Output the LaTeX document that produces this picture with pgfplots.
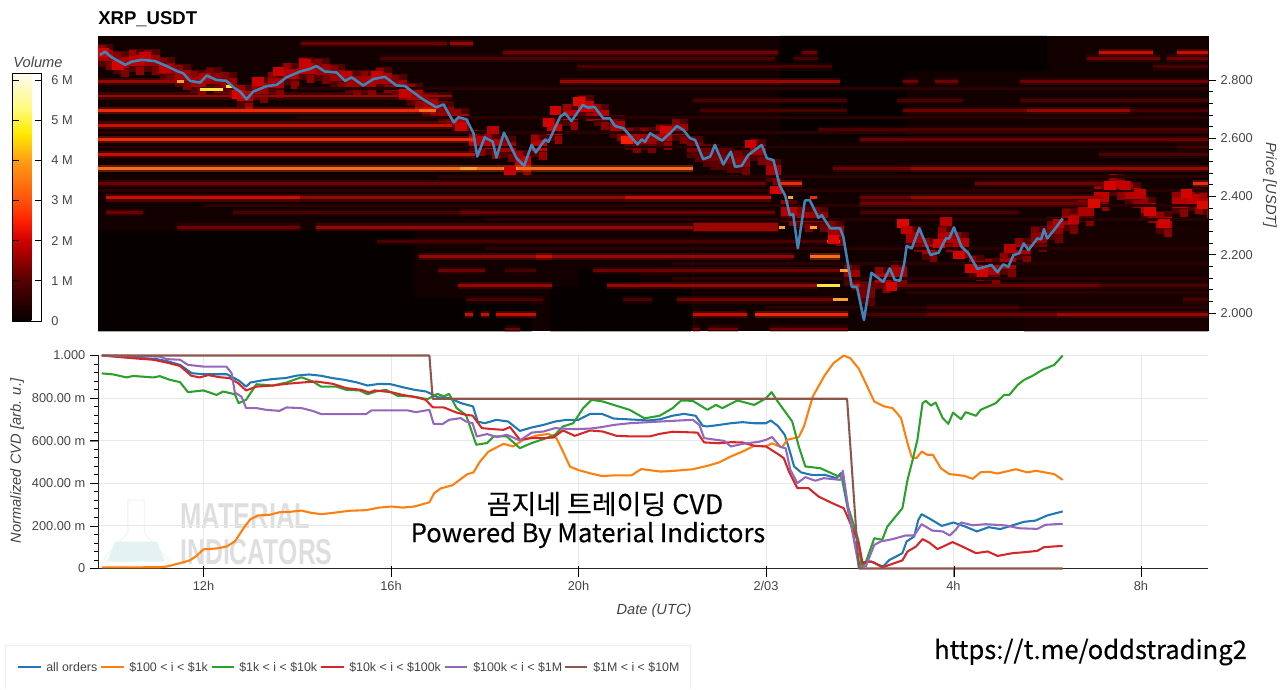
\documentclass[border=0pt]{standalone}
\usepackage{fontspec}
\usepackage{graphicx}
\usepackage{pgfplots}
\usepackage{pgfplotstable}
\pgfplotsset{compat=1.18}
\setmainfont{Liberation Sans}
\newfontfamily\cjk[FakeBold=0.35]{Noto Sans CJK KR}
\definecolor{hZ}{HTML}{070000}
\definecolor{hY}{HTML}{190000}
\definecolor{hA}{HTML}{2A0000}
\definecolor{hB}{HTML}{4A0000}
\definecolor{hC}{HTML}{700000}
\definecolor{hD}{HTML}{990800}
\definecolor{hE}{HTML}{C81000}
\definecolor{hF}{HTML}{EE2A0A}
\definecolor{hG}{HTML}{FF6A1A}
\definecolor{hH}{HTML}{FFA030}
\definecolor{hI}{HTML}{FFE838}
\definecolor{txt}{HTML}{444444}
\definecolor{gridc}{HTML}{E8E8E8}
\definecolor{c1}{HTML}{1F77B4}
\definecolor{c2}{HTML}{FF7F0E}
\definecolor{c3}{HTML}{2CA02C}
\definecolor{c4}{HTML}{D62728}
\definecolor{c5}{HTML}{9467BD}
\definecolor{c6}{HTML}{8C564B}
\pgfplotsset{colormap={heat}{rgb255(0pt)=(5,0,0) rgb255(10pt)=(85,0,0) rgb255(20pt)=(205,0,0) rgb255(25pt)=(255,30,0) rgb255(30pt)=(255,80,10) rgb255(40pt)=(255,155,20) rgb255(47pt)=(255,235,0) rgb255(53pt)=(255,250,120) rgb255(62pt)=(255,250,240)}}
\pgfdeclareplotmark{cH}{\pgfpathrectangle{\pgfpoint{-5.9pt}{-8.5pt}}{\pgfpoint{11.8pt}{17pt}}\pgfusepathqfill}
\pgfdeclareplotmark{cC}{\pgfpathrectangle{\pgfpoint{-5.9pt}{-4pt}}{\pgfpoint{11.8pt}{8pt}}\pgfusepathqfill}
\pgfdeclareplotmark{cU}{\pgfpathrectangle{\pgfpoint{-5.9pt}{3pt}}{\pgfpoint{5.9pt}{5pt}}\pgfusepathqfill}
\pgfdeclareplotmark{cL}{\pgfpathrectangle{\pgfpoint{0pt}{-11pt}}{\pgfpoint{5.9pt}{6pt}}\pgfusepathqfill}
\pgfdeclareplotmark{cM}{\pgfpathrectangle{\pgfpoint{-4.4pt}{-3.3pt}}{\pgfpoint{8.8pt}{6.6pt}}\pgfusepathqfill}
\newcommand\B[4]{\addplot[#4,opacity=.3,line width=5.5pt,line cap=butt,forget plot] coordinates {(#1,#3)(#2,#3)};\addplot[#4,line width=2.18pt,line cap=butt,forget plot] coordinates {(#1,#3)(#2,#3)};}
\newcommand\F[4]{\addplot[#4,line width=2.18pt,line cap=butt,forget plot] coordinates {(#1,#3)(#2,#3)};}
\newcommand\R[5]{\addplot[draw=none,fill=#5,forget plot] coordinates {(#1,#3)(#2,#3)(#2,#4)(#1,#4)} \closedcycle;}
\newcommand\PX[2]{({#1*0.75pt},{(689-#2)*0.75pt})}
\pgfplotstableread{
h p v
9.91 2.885 1.7
10.24 2.860 1.7
10.57 2.868 1.9
10.90 2.866 1.6
11.23 2.840 1.6
11.56 2.815 1.7
11.89 2.795 1.7
12.22 2.805 1.5
12.55 2.790 1.6
12.88 2.745 1.9
13.21 2.770 1.6
13.54 2.790 1.7
13.87 2.820 1.8
14.20 2.840 1.9
14.53 2.835 1.6
14.86 2.815 1.6
15.19 2.795 1.6
15.52 2.795 1.7
15.85 2.805 1.7
16.18 2.780 1.6
16.51 2.750 1.8
16.84 2.715 1.7
17.17 2.690 1.5
17.50 2.665 1.7
17.83 2.590 1.8
18.16 2.580 1.8
18.49 2.570 1.6
18.82 2.520 1.9
19.16 2.575 1.9
19.49 2.630 2.0
19.83 2.680 1.9
20.16 2.710 2.0
20.49 2.680 1.8
20.83 2.640 1.7
21.16 2.600 1.7
21.49 2.600 1.6
21.83 2.610 1.8
22.16 2.630 1.6
22.49 2.570 1.3
22.83 2.540 1.3
23.16 2.530 1.3
23.49 2.520 1.5
23.83 2.560 1.6
24.16 2.490 1.7
24.49 2.350 1.8
24.83 2.330 1.6
25.16 2.330 1.5
25.49 2.280 1.6
25.83 2.130 1.6
26.16 2.070 1.3
26.49 2.120 1.8
26.83 2.140 1.7
27.16 2.260 1.7
27.49 2.220 1.7
27.83 2.260 1.8
28.16 2.240 1.8
28.49 2.160 1.7
28.83 2.150 1.7
29.16 2.170 1.7
29.49 2.220 1.7
29.83 2.260 1.5
30.16 2.290 1.5
30.49 2.320 1.6
30.83 2.350 1.7
31.16 2.400 1.9
31.49 2.440 1.8
31.83 2.410 1.8
32.16 2.360 1.8
32.49 2.310 1.8
32.83 2.380 1.8
33.16 2.390 1.9
33.40 2.375 1.9
}\tblK
\pgfplotstableread{
h p v
9.85 2.894 2.5
10.75 2.880 2.4
10.18 2.850 2.5
11.18 2.840 2.3
13.60 2.830 2.4
14.17 2.857 2.4
15.70 2.817 2.4
15.05 2.817 2.3
16.30 2.754 2.4
13.17 2.794 2.4
12.03 2.810 2.2
12.74 2.749 2.5
17.50 2.640 2.4
18.18 2.628 2.2
18.54 2.490 2.4
19.51 2.695 2.5
20.01 2.726 2.6
19.36 2.654 2.5
21.03 2.594 3.0
21.86 2.628 2.5
23.67 2.580 2.4
24.21 2.422 2.5
25.44 2.253 2.6
26.93 2.308 2.6
26.68 2.090 2.5
27.69 2.239 2.5
27.00 2.285 2.3
27.84 2.314 2.2
28.12 2.199 2.5
28.37 2.153 2.5
28.62 2.138 2.5
29.21 2.222 2.2
30.24 2.308 2.2
30.56 2.319 2.3
31.00 2.377 2.6
31.34 2.439 2.5
31.66 2.439 2.3
31.98 2.411 2.3
32.19 2.348 2.5
32.49 2.308 2.5
32.97 2.411 2.5
33.33 2.371 2.6
}\tblM
\begin{document}
\begin{tikzpicture}
\path[use as bounding box] (0,0) rectangle (960pt,516.75pt);
% legend frame
\draw[draw=gridc!70,line width=.6pt] \PX{5}{689} -- \PX{5}{645} -- \PX{690}{645} -- \PX{690}{689};
% watermark
\fill[fill=black!4] \PX{127}{499.3} -- \PX{145}{499.3} -- \PX{145}{533} -- \PX{170}{560} -- \PX{165}{566.7} -- \PX{108}{566.7} -- \PX{103}{558} -- \PX{127}{533} -- cycle;
\fill[white] \PX{128.5}{501} -- \PX{143.5}{501} -- \PX{143.5}{533.5} -- \PX{168}{560} -- \PX{164}{565} -- \PX{109}{565} -- \PX{105}{558} -- \PX{128.5}{533.5} -- cycle;
\fill[fill=teal!10] \PX{115}{541.7} -- \PX{157}{541.7} -- \PX{165}{561.7} -- \PX{107}{561.7} -- cycle;
\node[anchor=west,inner sep=0,text=black!13] at \PX{180}{516} {\scalebox{.71}[1]{\fontsize{27pt}{27pt}\selectfont\bfseries MATERIAL}};
\node[anchor=west,inner sep=0,text=black!13] at \PX{180}{552} {\scalebox{.69}[1]{\fontsize{27pt}{27pt}\selectfont\bfseries INDICATORS}};

% ---------- top heat map
\begin{axis}[
  at={(73.5pt,268.125pt)},anchor=south west,scale only axis,
  width=832.5pt,height=221.625pt,
  xmin=9.75,xmax=33.43,ymin=1.9365,ymax=2.951,
  clip marker paths=true,
  axis x line=none,axis y line*=right,
  axis background/.style={fill=hA!42!black},
  colormap name=heat,point meta min=0,point meta max=6.16,
  ytick={2.0,2.2,2.4,2.6,2.8},yticklabels={2.000,2.200,2.400,2.600,2.800},
  minor y tick num=4,
  tick align=outside,
  major tick length=6pt,minor tick length=3.5pt,
  tick style={black,line width=.6pt},
  yticklabel style={text=txt,font=\fontsize{9.6pt}{11pt}\selectfont},
  xtick=\empty,
]
% dark regions
\R{9.75}{16.5}{1.9365}{2.28}{hZ}
\R{16.5}{19}{2.05}{1.9365}{hZ}
\R{19.4}{22.4}{1.9365}{2.09}{hZ}
\R{20.0}{21.3}{2.09}{2.15}{hZ}
\R{24.3}{27}{2.60}{2.951}{hZ}
\R{27}{30}{2.83}{2.951}{hZ}
\R{29.5}{33.43}{1.9365}{2.30}{hY}
% cluster around the price
\addplot[scatter,only marks,mark=cH,scatter/use mapped color={draw=none,fill=mapped color},point meta=0.95,forget plot] table[x=h,y=p] {\tblK};
\addplot[scatter,only marks,mark=cC,scatter/use mapped color={draw=none,fill=mapped color},point meta={\thisrow{v}},forget plot] table[x=h,y=p] {\tblK};
\addplot[scatter,only marks,mark=cU,scatter/use mapped color={draw=none,fill=mapped color},point meta={\thisrow{v}*.85},forget plot] table[x=h,y=p] {\tblK};
\addplot[scatter,only marks,mark=cL,scatter/use mapped color={draw=none,fill=mapped color},point meta={\thisrow{v}*.8},forget plot] table[x=h,y=p] {\tblK};
% faint rows
\F{14}{33.43}{2.77}{hA}
\F{14}{33.43}{2.67}{hA}
\F{9.75}{33.43}{2.62}{hA}
\F{9.75}{33.43}{2.57}{hA}
\F{17}{33.43}{2.47}{hA}
\F{9.75}{33.43}{2.42}{hA}
\F{12}{33.43}{2.37}{hA}
\F{18}{33.43}{2.32}{hA}
\F{18}{33.43}{2.22}{hA}
\F{22}{33.43}{2.17}{hA}
\F{22}{33.43}{2.12}{hA}
\F{27}{33.43}{2.07}{hA}
\F{24}{33.43}{2.02}{hA}
% rows
\B{14.09}{17.19}{2.925}{hC}
\B{17.26}{17.76}{2.925}{hD}
\B{18.4}{24.26}{2.895}{hC}
\B{24.76}{25.08}{2.895}{hC}
\B{31.11}{32.26}{2.895}{hE}
\B{32.76}{33.43}{2.895}{hE}
\B{15.77}{24.2}{2.875}{hB}
\B{24.6}{25.1}{2.875}{hB}
\B{30.84}{32.4}{2.875}{hC}
\B{32.56}{33.43}{2.875}{hC}
\B{19.96}{25.4}{2.845}{hB}
\B{32.26}{33.43}{2.845}{hB}
\B{9.75}{11.57}{2.795}{hD}
\B{19.6}{25.58}{2.795}{hD}
\B{26.93}{27.25}{2.795}{hC}
\B{27.6}{28.1}{2.795}{hC}
\B{29.42}{33.43}{2.795}{hC}
\B{9.75}{17.3}{2.745}{hD}
\B{22.45}{25.72}{2.73}{hB}
\B{26.8}{28.2}{2.73}{hB}
\B{29.42}{33.43}{2.73}{hB}
\B{9.75}{16.95}{2.695}{hF}
\F{16.6}{16.95}{2.695}{hG}
\B{22.6}{25.72}{2.695}{hB}
\B{26.93}{29.56}{2.695}{hC}
\B{29.56}{31.77}{2.695}{hD}
\B{31.77}{33.43}{2.695}{hB}
\B{9.75}{17.3}{2.645}{hE}
\B{25.1}{33.43}{2.63}{hB}
\B{9.75}{17.8}{2.595}{hF}
\B{26}{33.43}{2.595}{hC}
\B{32.76}{33.43}{2.57}{hB}
\B{9.75}{17.8}{2.545}{hE}
\B{31.1}{33.43}{2.545}{hB}
\B{9.75}{22.45}{2.495}{hG}
\F{17.47}{17.83}{2.495}{hH}
\F{18.4}{18.7}{2.495}{hH}
\B{25.44}{27.1}{2.495}{hC}
\B{27.1}{33.43}{2.495}{hD}
\B{9.75}{24.0}{2.445}{hC}
\B{24.27}{24.76}{2.445}{hF}
\B{28.46}{31.27}{2.445}{hC}
\B{33.12}{33.43}{2.445}{hF}
\B{9.93}{14.06}{2.395}{hE}
\B{14.06}{21}{2.395}{hD}
\B{21}{24.1}{2.395}{hE}
\B{26}{27.1}{2.395}{hC}
\B{27.1}{31.2}{2.395}{hD}
\F{24.48}{24.58}{2.395}{hH}
\F{24.94}{25.08}{2.395}{hF}
\B{26}{31}{2.375}{hC}
\B{9.93}{10.72}{2.345}{hC}
\B{12.64}{17.9}{2.345}{hB}
\B{17.47}{24.2}{2.345}{hC}
\B{26}{29.4}{2.345}{hB}
\B{11.43}{14.06}{2.295}{hC}
\B{14.4}{22.45}{2.295}{hD}
\R{22.45}{24.26}{2.28}{2.31}{hD}
\F{24.27}{24.41}{2.295}{hH}
\F{24.94}{25.08}{2.295}{hH}
\B{15.7}{25.3}{2.245}{hB}
\F{25.3}{25.58}{2.245}{hF}
\B{16.6}{24.6}{2.195}{hD}
\B{19.1}{19.43}{2.195}{hE}
\B{24.94}{25.58}{2.195}{hG}
\B{17}{18}{2.145}{hC}
\B{18.43}{19.1}{2.145}{hB}
\B{20.3}{25.58}{2.145}{hC}
\F{25.58}{25.76}{2.145}{hH}
\B{17.44}{19.43}{2.095}{hD}
\B{20.6}{25.08}{2.095}{hD}
\F{25.08}{25.58}{2.095}{hI}
\F{25.83}{26.08}{2.095}{hE}
\B{26}{31.1}{2.095}{hC}
\B{31.1}{33.43}{2.095}{hB}
\B{17.6}{19.25}{2.045}{hB}
\B{20.96}{21.56}{2.045}{hB}
\B{22.1}{25.44}{2.045}{hC}
\F{25.44}{25.76}{2.045}{hH}
\B{32.9}{33.43}{2.045}{hB}
\B{27.43}{29.4}{2.02}{hB}
\B{17.58}{17.76}{1.995}{hE}
\B{17.93}{18.1}{1.995}{hE}
\B{18.25}{19.09}{1.995}{hE}
\B{22.45}{23.59}{1.995}{hE}
\B{23.77}{25.76}{1.995}{hF}
\B{26}{27.43}{1.995}{hB}
\B{27.43}{30.2}{1.995}{hC}
\B{30.2}{33.43}{1.995}{hD}
\B{18.43}{18.75}{1.945}{hC}
\B{22.45}{22.6}{1.945}{hC}
\B{22.77}{23.41}{1.945}{hC}
\B{24.09}{25.76}{1.945}{hC}
% bright spots
\F{11.93}{12.42}{2.767}{hI}
\F{12.49}{12.6}{2.777}{hI}
\F{11.43}{11.58}{2.795}{hH}
\addplot[scatter,only marks,mark=cM,scatter/use mapped color={draw=none,fill=mapped color},point meta={\thisrow{v}*.82},forget plot] table[x=h,y=p] {\tblM};
% price
\addplot[color={rgb,255:red,62;green,134;blue,186},line width=1.9pt,line join=round] coordinates {
(9.79,2.886)(9.90,2.897)(10.04,2.878)(10.33,2.852)(10.47,2.863)(10.68,2.869)(10.96,2.865)(11.21,2.848)(11.46,2.829)(11.57,2.823)(11.71,2.797)(11.93,2.791)(12.07,2.815)(12.28,2.800)(12.49,2.797)(12.64,2.775)(12.78,2.760)(12.92,2.734)(13.06,2.760)(13.35,2.779)(13.56,2.783)(13.77,2.809)(14.06,2.829)(14.27,2.838)(14.41,2.848)(14.59,2.829)(14.84,2.826)(15.02,2.797)(15.16,2.809)(15.41,2.781)(15.62,2.803)(15.87,2.811)(16.12,2.781)(16.30,2.779)(16.65,2.737)(16.97,2.706)(17.12,2.716)(17.34,2.654)(17.44,2.672)(17.61,2.665)(17.76,2.617)(17.84,2.537)(18.0,2.603)(18.17,2.588)(18.25,2.534)(18.41,2.619)(18.68,2.531)(18.84,2.505)(19.0,2.577)(19.09,2.551)(19.29,2.596)(19.36,2.588)(19.61,2.674)(19.71,2.686)(19.85,2.659)(20.09,2.714)(20.21,2.705)(20.34,2.708)(20.53,2.668)(20.67,2.668)(20.78,2.642)(20.96,2.634)(21.26,2.579)(21.35,2.596)(21.42,2.588)(21.53,2.617)(21.78,2.592)(21.95,2.617)(22.1,2.642)(22.24,2.628)(22.38,2.600)(22.49,2.594)(22.66,2.528)(22.81,2.537)(22.91,2.577)(23.09,2.510)(23.25,2.554)(23.34,2.502)(23.48,2.505)(23.62,2.542)(23.91,2.577)(24.02,2.531)(24.16,2.525)(24.29,2.439)(24.41,2.403)(24.51,2.336)(24.58,2.339)(24.68,2.222)(24.83,2.386)(24.93,2.388)(25.12,2.327)(25.19,2.336)(25.37,2.291)(25.58,2.291)(25.65,2.262)(25.83,2.090)(25.94,2.090)(26.09,1.976)(26.25,2.138)(26.50,2.107)(26.64,2.153)(26.75,2.113)(26.86,2.111)(26.95,2.171)(27.0,2.230)(27.11,2.222)(27.27,2.291)(27.51,2.199)(27.68,2.207)(27.84,2.256)(27.91,2.256)(28.01,2.294)(28.17,2.228)(28.32,2.205)(28.51,2.151)(28.81,2.165)(28.94,2.140)(29.06,2.167)(29.17,2.159)(29.28,2.199)(29.40,2.205)(29.50,2.239)(29.60,2.216)(29.79,2.256)(29.87,2.253)(29.93,2.288)(30.0,2.256)(30.2,2.296)(30.33,2.325)};
\end{axis}

% ---------- CVD
\begin{axis}[
  at={(73.5pt,90.375pt)},anchor=south west,scale only axis,
  width=832.5pt,height=159.75pt,
  xmin=9.75,xmax=33.43,ymin=0,ymax=1,
  clip=false,
  axis x line*=bottom,axis y line*=left,
  axis line style={-,black!85,line width=.7pt},
  xmajorgrids=true,ymajorgrids=true,grid style={gridc,line width=.7pt},
  xtick={12,16,20,24,28,32},xticklabels={12h,16h,20h,2/03,4h,8h},
  ytick={0,.2,.4,.6,.8,1},yticklabels={0,200.00 m,400.00 m,600.00 m,800.00 m,1.000},
  tick align=outside,
  major tick length=6pt,
  ticklabel style={text=txt,font=\fontsize{9.6pt}{11pt}\selectfont},
  every axis plot/.append style={line width=1.55pt,line join=round},
]
\addplot[c1] coordinates {(9.83,1)(10,.998)(10.25,.995)(10.5,.992)(10.75,.987)(11,.983)(11.25,.972)(11.5,.956)(11.75,.917)(12,.912)(12.25,.912)(12.5,.912)(12.75,.883)(12.91,.854)(13,.873)(13.25,.883)(13.5,.89)(13.75,.894)(14,.906)(14.25,.911)(14.5,.905)(14.75,.894)(15,.886)(15.25,.875)(15.5,.859)(15.75,.867)(16,.865)(16.25,.851)(16.5,.839)(16.75,.831)(17,.804)(17.25,.8)(17.5,.776)(17.75,.761)(17.85,.69)(18,.682)(18.25,.698)(18.5,.69)(18.75,.646)(19,.662)(19.25,.674)(19.5,.69)(19.75,.698)(20,.698)(20.25,.726)(20.5,.726)(20.75,.704)(21,.701)(21.25,.698)(21.5,.695)(21.75,.701)(22,.717)(22.25,.726)(22.5,.717)(22.65,.67)(22.75,.667)(23,.674)(23.25,.682)(23.5,.687)(23.75,.682)(24,.682)(24.1,.695)(24.25,.67)(24.4,.628)(24.5,.557)(24.6,.479)(24.75,.451)(25,.438)(25.25,.44)(25.5,.424)(25.6,.448)(25.75,.275)(26,.009)(26.09,.03)(26.25,.033)(26.34,.022)(26.5,.009)(26.63,.04)(26.75,.053)(26.91,.072)(27,.127)(27.16,.15)(27.25,.228)(27.32,.255)(27.5,.233)(27.75,.2)(28,.216)(28.25,.197)(28.5,.174)(28.75,.194)(29,.185)(29.25,.202)(29.5,.219)(29.75,.225)(30,.249)(30.33,.268)};
\addplot[c2] coordinates {(9.83,.005)(11.07,.006)(11.21,.009)(11.5,.025)(11.71,.038)(11.85,.059)(12,.09)(12.28,.094)(12.49,.103)(12.67,.127)(12.88,.197)(13,.231)(13.16,.249)(13.41,.252)(13.62,.264)(13.84,.266)(14.09,.272)(14.26,.263)(14.51,.255)(14.76,.261)(15.11,.271)(15.47,.274)(15.75,.286)(16,.291)(16.25,.286)(16.5,.291)(16.82,.311)(16.92,.353)(17.06,.376)(17.31,.391)(17.49,.42)(17.63,.443)(17.76,.451)(17.9,.502)(18.08,.549)(18.4,.585)(18.61,.573)(18.82,.604)(19.11,.624)(19.36,.632)(19.53,.612)(19.67,.549)(19.82,.478)(20,.462)(20.25,.447)(20.5,.434)(20.75,.437)(21.13,.437)(21.34,.467)(21.75,.455)(22.01,.458)(22.44,.466)(22.75,.482)(23,.498)(23.25,.526)(23.5,.549)(23.75,.576)(24,.573)(24.13,.588)(24.25,.576)(24.35,.57)(24.45,.604)(24.7,.617)(24.81,.667)(25,.808)(25.25,.906)(25.44,.964)(25.66,1)(25.8,.987)(25.98,.938)(26.13,.869)(26.31,.784)(26.52,.761)(26.7,.753)(26.88,.707)(27.02,.588)(27.11,.523)(27.21,.518)(27.32,.549)(27.44,.534)(27.56,.534)(27.73,.471)(27.91,.443)(28.05,.44)(28.23,.435)(28.41,.421)(28.58,.452)(28.76,.454)(28.94,.446)(29.33,.466)(29.58,.451)(29.76,.459)(30.15,.443)(30.33,.416)};
\addplot[c3] coordinates {(9.83,.916)(10.08,.911)(10.36,.897)(10.5,.904)(10.93,.897)(11.07,.903)(11.28,.886)(11.5,.875)(11.67,.828)(12,.836)(12.28,.815)(12.42,.831)(12.67,.818)(12.75,.776)(12.91,.792)(13.13,.865)(13.48,.859)(13.77,.873)(14.09,.898)(14.33,.878)(14.51,.854)(14.83,.854)(15.04,.839)(15.33,.836)(15.5,.818)(15.68,.831)(15.89,.839)(16.14,.811)(16.46,.808)(16.78,.795)(16.99,.82)(17.13,.808)(17.24,.82)(17.4,.753)(17.6,.721)(17.82,.581)(18.05,.589)(18.19,.62)(18.47,.62)(18.75,.565)(19,.589)(19.25,.607)(19.5,.628)(19.67,.667)(19.89,.682)(20.1,.753)(20.28,.792)(20.52,.784)(20.75,.768)(21.09,.745)(21.41,.705)(21.73,.717)(22.01,.753)(22.19,.789)(22.44,.787)(22.75,.745)(22.93,.768)(23.07,.753)(23.39,.789)(23.75,.768)(24,.799)(24.12,.828)(24.25,.784)(24.56,.69)(24.7,.573)(24.84,.479)(25.16,.471)(25.55,.432)(25.62,.44)(25.75,.291)(25.97,.134)(26.04,.005)(26.13,.03)(26.31,.142)(26.48,.135)(26.59,.197)(26.91,.283)(27.02,.416)(27.12,.502)(27.23,.604)(27.34,.776)(27.41,.787)(27.52,.765)(27.62,.779)(27.77,.706)(27.89,.679)(27.99,.732)(28.16,.701)(28.26,.734)(28.48,.717)(28.58,.745)(28.9,.776)(29.08,.815)(29.19,.815)(29.37,.862)(29.51,.886)(29.69,.905)(29.9,.933)(30.15,.956)(30.33,1)};
\addplot[c4] coordinates {(9.83,1)(10.5,.987)(10.93,.98)(11.21,.967)(11.5,.951)(11.74,.905)(11.92,.897)(12.1,.908)(12.35,.898)(12.56,.894)(12.74,.87)(12.91,.836)(13.13,.854)(13.48,.859)(13.77,.867)(14.09,.873)(14.4,.878)(14.76,.867)(15.04,.847)(15.36,.839)(15.54,.826)(15.65,.836)(16,.828)(16.25,.815)(16.53,.804)(16.74,.792)(16.89,.757)(17.13,.756)(17.4,.732)(17.6,.721)(17.74,.718)(17.94,.659)(18.19,.654)(18.4,.651)(18.54,.664)(18.75,.604)(19,.612)(19.25,.612)(19.46,.615)(19.67,.648)(19.92,.623)(20.25,.648)(20.52,.643)(20.81,.623)(21.13,.62)(21.52,.62)(21.73,.632)(22.01,.642)(22.54,.638)(22.68,.592)(23,.588)(23.25,.593)(23.5,.592)(23.75,.576)(24,.573)(24.28,.534)(24.38,.518)(24.49,.455)(24.67,.377)(24.91,.377)(25.12,.338)(25.41,.307)(25.66,.283)(25.83,.197)(25.98,.119)(26.06,.025)(26.2,.033)(26.31,.028)(26.48,.005)(26.7,.022)(26.91,.038)(27.02,.08)(27.2,.103)(27.34,.138)(27.48,.122)(27.66,.091)(27.98,.124)(28.19,.103)(28.48,.072)(28.73,.08)(28.94,.059)(29.26,.072)(29.54,.077)(29.79,.083)(29.93,.1)(30.11,.103)(30.33,.106)};
\addplot[c5] coordinates {(9.83,1)(11.07,.995)(11.21,.983)(11.5,.98)(11.67,.956)(12,.948)(12.49,.948)(12.6,.917)(12.67,.826)(12.81,.807)(12.91,.753)(13.13,.753)(13.34,.745)(13.62,.74)(13.77,.756)(14.09,.753)(14.33,.74)(14.51,.725)(15.47,.725)(15.58,.742)(16.36,.742)(16.53,.734)(16.82,.745)(16.91,.679)(17.1,.678)(17.24,.698)(17.49,.706)(17.6,.69)(17.74,.682)(17.83,.62)(18.05,.631)(18.26,.617)(18.47,.628)(18.75,.601)(19,.638)(19.25,.643)(19.5,.659)(19.89,.654)(20.25,.657)(20.5,.664)(20.75,.674)(21.09,.682)(21.73,.69)(22.44,.698)(22.58,.674)(22.68,.612)(23.11,.599)(23.25,.573)(23.5,.585)(23.85,.595)(24,.604)(24.13,.617)(24.31,.57)(24.42,.565)(24.52,.463)(24.67,.401)(24.84,.429)(25.05,.412)(25.23,.424)(25.59,.416)(25.64,.459)(25.76,.275)(25.98,.01)(26.13,.01)(26.31,.111)(26.45,.127)(26.7,.138)(26.98,.155)(27.16,.155)(27.32,.208)(27.55,.178)(27.77,.174)(27.92,.155)(28.05,.182)(28.16,.216)(28.41,.203)(28.69,.208)(29.12,.202)(29.4,.189)(29.79,.186)(29.96,.205)(30.33,.21)};
\addplot[c6] coordinates {(9.83,1)(16.82,1)(16.89,.797)(25.73,.797)(25.98,0)(30.33,0)};
\end{axis}
% axis ticks of the CVD panel
\foreach \x in {203.5,391,578.7,766.5,954,1141.5}{\draw[black,line width=.6pt] \PX{\x}{566} -- \PX{\x}{576.5};}
\foreach \i in {0,...,25}{
  \pgfmathsetmacro\yy{568.5-8.52*\i}
  \pgfmathtruncatemacro\mm{mod(\i,5)}
  \ifnum\mm=0 \draw[black,line width=.6pt] \PX{90}{\yy} -- \PX{98}{\yy};
  \else \draw[black,line width=.6pt] \PX{93.5}{\yy} -- \PX{98}{\yy};\fi
}

% colour bar
\begin{scope}[shift={(0.75pt,276pt)}]
\pgfplotscolorbardrawstandalone[colormap name=heat,point meta min=0,point meta max=6.16,
 colorbar style={at={(0,0)},anchor=south west,scale only axis,width=21.75pt,height=185.6pt,
  ytick={0,1,2,3,4,5,6},yticklabels={0,1 M,2 M,3 M,4 M,5 M,6 M},
  yticklabel pos=right,
  yticklabel style={text=txt,anchor=west,xshift=4pt,font=\fontsize{9.6pt}{11pt}\selectfont},
  tick style={black,line width=.6pt},
  ytick align=inside,major tick length=5pt,
  axis line style={black,line width=.7pt}}]
\end{scope}

% texts
\node[anchor=west,inner sep=0] at \PX{98}{19} {\fontsize{13.9pt}{15pt}\selectfont\bfseries XRP\_USDT};
\node[inner sep=0,text=txt] at \PX{38}{62} {\fontsize{11pt}{12pt}\selectfont\itshape Volume};
\node[inner sep=0,text=txt,rotate=-90] at \PX{1270}{185} {\fontsize{11pt}{12pt}\selectfont\itshape Price [USDT]};
\node[inner sep=0,text=txt,rotate=90] at \PX{17}{461} {\fontsize{11pt}{12pt}\selectfont\itshape Normalized CVD [arb. u.]};
\node[inner sep=0,text=txt] at \PX{654}{611} {\fontsize{11pt}{12pt}\selectfont\itshape Date (UTC)};
\node[inner sep=0] at \PX{605}{504} {\cjk\fontsize{20.2pt}{22pt}\selectfont 곰지네 트레이딩 CVD};
\node[inner sep=0] at \PX{588}{535} {\cjk\fontsize{19.2pt}{22pt}\selectfont Powered By Material Indictors};
\node[inner sep=0] at \PX{1090.5}{652} {\cjk\fontsize{19.2pt}{22pt}\selectfont https://t.me/oddstrading2};
% legend
\foreach \a/\b/\c/\t/\tx in {18/41/c1/all orders/46,101/124/c2/{\$100 < i < \$1k}/129,212/234/c3/{\$1k < i < \$10k}/239,321/344/c4/{\$10k < i < \$100k}/349,445/467/c5/{\$100k < i < \$1M}/473,565/587/c6/{\$1M < i < \$10M}/593}{
  \draw[\c,line width=1.55pt] \PX{\a}{667} -- \PX{\b}{667};
  \node[anchor=west,inner sep=0,text=txt] at \PX{\tx}{667} {\fontsize{9.3pt}{11pt}\selectfont\t};
}
\end{tikzpicture}
\end{document}
